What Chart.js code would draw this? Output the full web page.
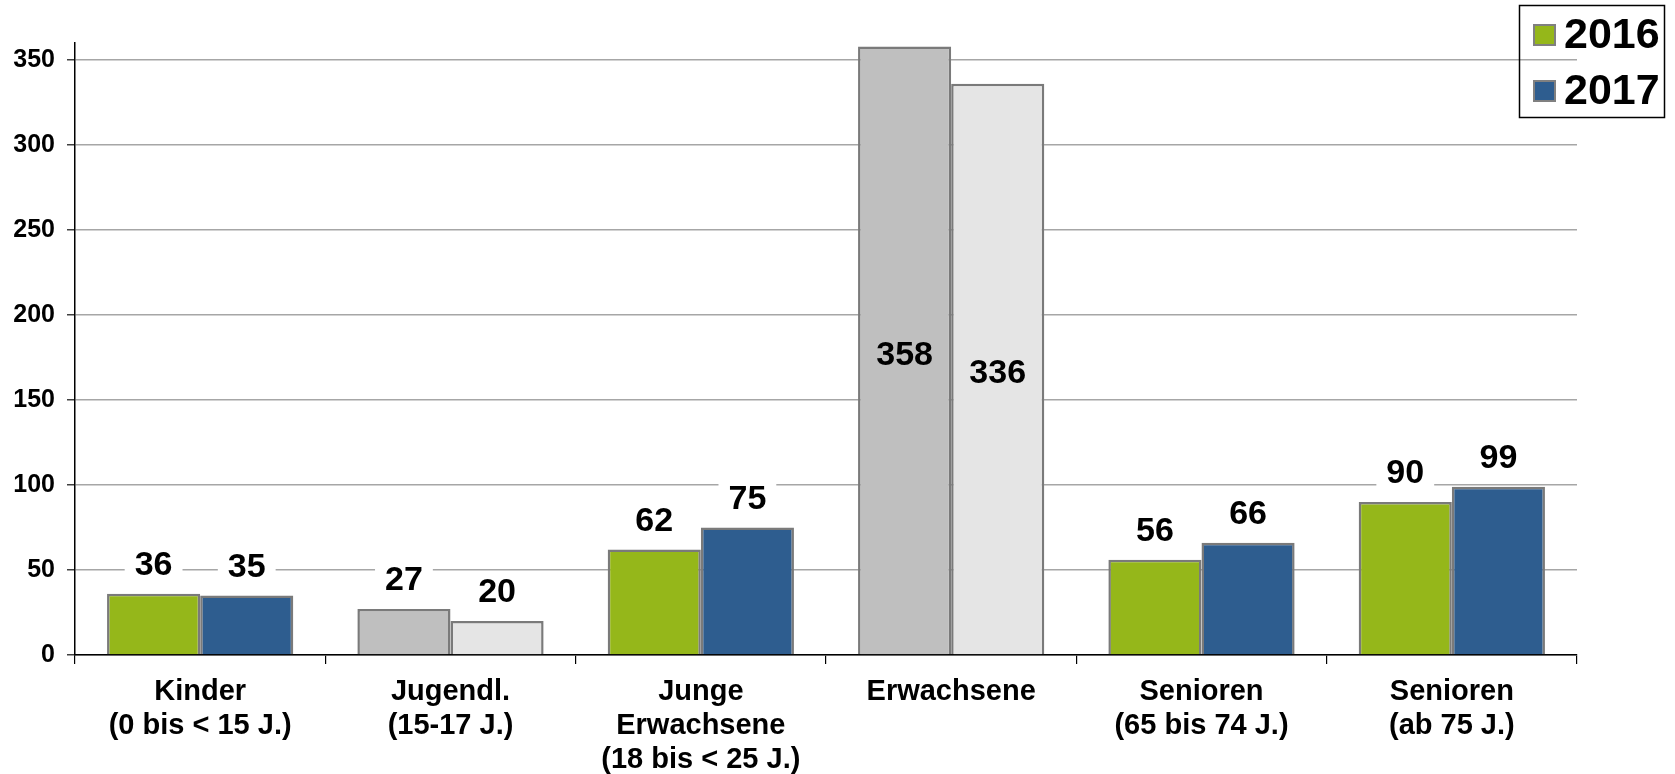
<!DOCTYPE html>
<html>
<head>
<meta charset="utf-8">
<script src="https://cdn.jsdelivr.net/npm/chart.js@4"></script>
<style>
html,body{margin:0;padding:0;background:#fff;}
canvas{display:block;}
</style>
</head>
<body>
<canvas id="c" width="1675" height="774"></canvas>
<script>
const categories = [
  ["Kinder", "(0 bis < 15 J.)"],
  ["Jugendl.", "(15-17 J.)"],
  ["Junge", "Erwachsene", "(18 bis < 25 J.)"],
  ["Erwachsene"],
  ["Senioren", "(65 bis 74 J.)"],
  ["Senioren", "(ab 75 J.)"]
];
const seriesNames = ["2016", "2017"];
const values2016 = [36, 27, 62, 358, 56, 90];
const values2017 = [35, 20, 75, 336, 66, 99];
const yTicks = [0, 50, 100, 150, 200, 250, 300, 350];
const yMax = 360;

const FONT = '"Liberation Sans", Arial, Helvetica, sans-serif';
const GREEN = '#95B71A', BLUE = '#2E5D8F', GRAY1 = '#BFBFBF', GRAY2 = '#E5E5E5';
const greyCats = [1, 3];
const colors2016 = categories.map((c, i) => greyCats.includes(i) ? GRAY1 : GREEN);
const colors2017 = categories.map((c, i) => greyCats.includes(i) ? GRAY2 : BLUE);

const valueLabels = {
  id: 'valueLabels',
  afterDatasetsDraw(chart) {
    const ctx = chart.ctx;
    ctx.save();
    ctx.font = 'bold 34px ' + FONT;
    ctx.textAlign = 'center';
    ctx.textBaseline = 'middle';
    chart.data.datasets.forEach((ds, di) => {
      const meta = chart.getDatasetMeta(di);
      meta.data.forEach((bar, i) => {
        const txt = String(ds.data[i]);
        let y = bar.y - 29;
        const inside = (y - 18) < chart.chartArea.top;
        if (inside) {
          y = (bar.y + bar.base) / 2 + 4;
        } else {
          const w = ctx.measureText(txt).width + 20;
          ctx.fillStyle = '#fff';
          ctx.fillRect(bar.x - w / 2, y - 16, w, 32);
        }
        ctx.fillStyle = '#000';
        ctx.fillText(txt, bar.x, y + 1);
      });
    });
    ctx.restore();
  }
};

const boxLegend = {
  id: 'boxLegend',
  afterDraw(chart) {
    const ctx = chart.ctx;
    ctx.save();
    ctx.strokeStyle = '#000';
    ctx.lineWidth = 1.5;
    ctx.strokeRect(1519.5, 5.5, 145, 112);
    ctx.font = 'bold 43px ' + FONT;
    ctx.textAlign = 'left';
    ctx.textBaseline = 'middle';
    const rows = [35, 91];
    chart.data.datasets.forEach((ds, di) => {
      const cy = rows[di];
      const fill = di === 0 ? GREEN : BLUE;
      ctx.fillStyle = fill;
      ctx.fillRect(1533, cy - 11, 23, 22);
      ctx.strokeStyle = '#808080';
      ctx.lineWidth = 2;
      ctx.strokeRect(1534, cy - 10, 21, 20);
      ctx.fillStyle = '#000';
      ctx.fillText(ds.label, 1564, cy + 1);
    });
    ctx.restore();
  }
};

new Chart(document.getElementById('c'), {
  type: 'bar',
  data: {
    labels: categories,
    datasets: [
      { label: seriesNames[0], data: values2016, backgroundColor: colors2016, borderColor: '#7A7A7A', borderWidth: 2.5, categoryPercentage: 0.744, barPercentage: 1.0 },
      { label: seriesNames[1], data: values2017, backgroundColor: colors2017, borderColor: '#7A7A7A', borderWidth: 2.5, categoryPercentage: 0.744, barPercentage: 1.0 }
    ]
  },
  options: {
    responsive: false,
    animation: false,
    devicePixelRatio: 1,
    layout: { padding: { left: 0, right: 98, top: 43, bottom: 0 } },
    plugins: { legend: { display: false }, tooltip: { enabled: false } },
    scales: {
      x: {
        grid: { drawOnChartArea: false, drawTicks: true, tickLength: 9, color: '#000', lineWidth: 1.2 },
        border: { display: true, color: '#000', width: 1.5 },
        ticks: { color: '#000', font: { family: FONT, size: 29, weight: 'bold', lineHeight: 1.17 }, padding: 11, maxRotation: 0, autoSkip: false },
        afterFit(scale) { scale.height = 119; }
      },
      y: {
        min: 0,
        max: yMax,
        afterBuildTicks(scale) { scale.ticks = yTicks.map(v => ({ value: v })); },
        grid: { color: '#A6A6A6', lineWidth: 1.5, tickLength: 8, tickColor: '#404040', tickWidth: 1.5 },
        border: { display: true, color: '#000', width: 1.5 },
        ticks: { color: '#000', font: { family: FONT, size: 25, weight: 'bold' }, padding: 12 },
        afterFit(scale) { scale.width = 75; }
      }
    }
  },
  plugins: [valueLabels, boxLegend]
});
</script>
</body>
</html>
